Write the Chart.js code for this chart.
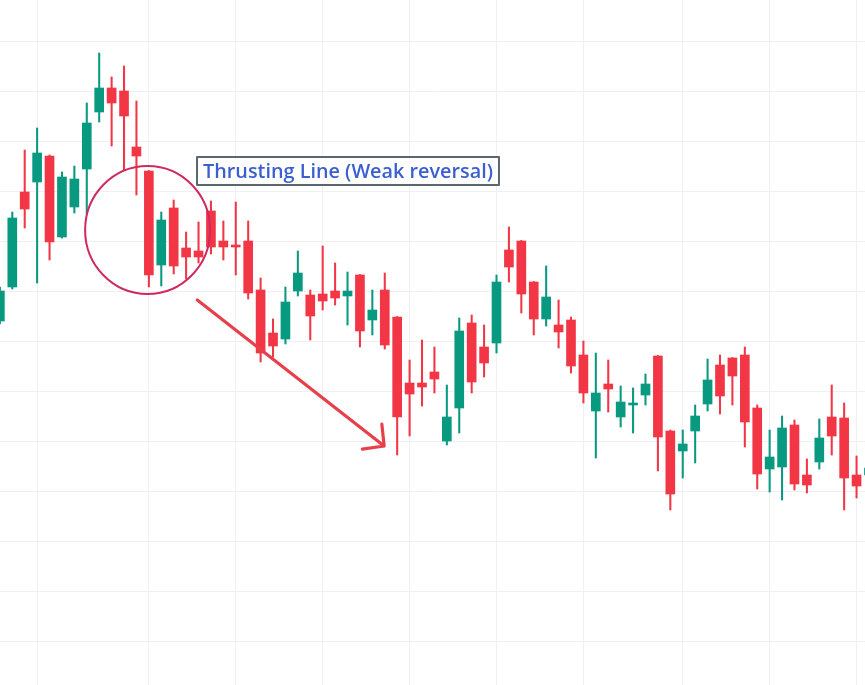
<!DOCTYPE html>
<html>
<head>
<meta charset="utf-8">
<script src="https://cdn.jsdelivr.net/npm/chart.js@4"></script>
<style>
  html, body { margin: 0; padding: 0; background: #ffffff; }
  #wrap { position: relative; width: 865px; height: 685px; }
  canvas { display: block; }
</style>
</head>
<body>
<div id="wrap"><canvas id="c" width="865" height="685"></canvas></div>
<script>
// ---- data (index = bar number) ----
const bars   = [0,1,2,3,4,5,6,7,8,9,10,11,12,13,14,15,16,17,18,19,20,21,22,23,24,25,26,27,28,29,30,31,32,33,34,35,36,37,38,39,40,41,42,43,44,45,46,47,48,49,50,51,52,53,54,55,56,57,58,59,60,61,62,63,64,65,66,67,68,69,70];
const opens  = [164.1,170.9,189.9,191.9,197.1,180.9,186.9,194.5,205.9,210.7,210.1,198.9,194.1,175.3,186.7,178.7,178.1,186.1,180.1,179.3,180.1,170.3,161.7,160.5,170.1,169.3,169.5,170.1,169.1,173.3,164.3,170.3,164.9,151.7,151.7,153.9,140.1,146.7,163.7,158.9,159.7,178.3,180.1,171.9,164.5,163.3,164.3,157.3,146.1,151.5,144.9,147.3,149.3,157.1,142.1,138.1,142.1,147.5,155.3,156.7,157.3,146.7,134.5,134.9,143.3,133.3,135.9,144.9,144.7,133.3,133.3];
const highs  = [170.9,185.9,198.3,202.7,197.3,193.9,195.1,207.7,217.7,212.9,215.1,208.1,194.2,185.9,188.3,181.9,183.9,188.1,184.1,187.9,184.1,172.7,164.5,170.9,178.1,170.3,179.1,175.7,173.9,173.4,170.3,173.7,165.0,156.3,160.3,158.9,151.3,164.7,165.3,163.3,173.3,182.9,180.2,172.0,175.1,168.3,164.9,160.1,157.7,156.3,151.1,150.7,153.5,157.2,142.3,142.3,147.3,156.5,157.3,156.8,158.9,147.3,142.3,145.1,144.3,136.5,144.5,151.3,147.7,137.1,135.9];
const lows   = [163.5,170.5,182.7,171.7,176.3,180.7,185.7,185.5,203.9,199.1,194.3,189.3,170.9,171.1,173.5,172.5,175.7,177.5,176.3,173.3,168.5,155.9,156.9,159.5,169.1,160.3,166.3,167.3,163.3,158.9,161.3,158.5,137.3,141.1,147.1,149.7,139.3,141.7,149.7,152.9,157.7,171.9,165.7,161.3,163.1,158.7,153.7,147.7,136.7,145.9,142.9,141.7,147.3,134.1,126.3,132.7,135.7,146.1,145.5,147.3,138.9,130.5,129.9,128.3,130.3,129.7,134.5,137.3,126.3,128.7,132.3];
const closes = [170.1,184.7,186.5,197.7,179.9,192.9,192.5,203.7,210.7,207.7,205.1,197.1,173.3,184.3,175.1,176.9,176.9,178.9,178.9,178.9,169.7,157.7,159.1,167.9,173.7,165.1,168.1,168.7,170.1,162.1,166.3,159.3,144.9,149.5,150.9,152.5,144.9,162.1,151.9,155.7,171.9,174.9,169.5,164.5,168.9,161.9,155.1,149.7,149.7,150.5,147.9,147.7,151.5,140.9,129.5,139.5,145.1,152.3,149.1,153.1,143.9,133.5,136.9,142.7,131.5,131.3,140.7,141.1,132.7,131.1,134.7];

// grid positions (bar numbers for vertical lines, price levels for horizontal lines)
const xGridBars   = [3,12,19,26,33,40,47,55,62,69];
const yGridLevels = [100,110,120,130,140,150,160,170,180,190,200,210,220];

// annotation anchors in data units (bar number, price)
const circleCenter = {x: 11.9, y: 182.3};
const arrowFrom    = {x: 15.9, y: 168.3};
const arrowTo      = {x: 30.95, y: 139.1};
const labelAnchor  = {x: 15.88, y: 196.9};
const labelText    = 'Thrusting Line (Weak reversal)';

const UP = '#089981', DOWN = '#F23645';
const colorOf = i => (closes[i] >= opens[i] ? UP : DOWN);

const wickData = bars.map((b, i) => ({x: b, y: [lows[i], highs[i]]}));
const bodyData = bars.map((b, i) => ({x: b, y: [opens[i], closes[i]]}));

const annotations = {
  id: 'annotations',
  afterDatasetsDraw(chart) {
    const ctx = chart.ctx;
    const xs = chart.scales.x, ys = chart.scales.y;
    const px = v => xs.getPixelForValue(v), py = v => ys.getPixelForValue(v);
    ctx.save();
    // circle
    ctx.strokeStyle = '#d1295f';
    ctx.lineWidth = 2;
    ctx.beginPath();
    ctx.ellipse(px(circleCenter.x), py(circleCenter.y), 62.5, 64, 0, 0, Math.PI * 2);
    ctx.stroke();
    // arrow
    const x1 = px(arrowFrom.x), y1 = py(arrowFrom.y), x2 = px(arrowTo.x), y2 = py(arrowTo.y);
    ctx.strokeStyle = '#e8404b';
    ctx.lineWidth = 3.2;
    ctx.lineCap = 'round';
    ctx.lineJoin = 'round';
    ctx.beginPath();
    ctx.moveTo(x1, y1);
    ctx.lineTo(x2, y2);
    const back = Math.atan2(y1 - y2, x1 - x2);
    const spread = 46 * Math.PI / 180, headLen = 22;
    ctx.moveTo(x2 + headLen * Math.cos(back + spread), y2 + headLen * Math.sin(back + spread));
    ctx.lineTo(x2, y2);
    ctx.lineTo(x2 + headLen * Math.cos(back - spread), y2 + headLen * Math.sin(back - spread));
    ctx.stroke();
    // label box
    const lx = px(labelAnchor.x), ly = py(labelAnchor.y);
    let size = 20;
    ctx.font = '600 ' + size + 'px "Open Sans"';
    const targetW = 290;
    const w0 = ctx.measureText(labelText).width;
    size = size * targetW / w0;
    ctx.font = '600 ' + size.toFixed(2) + 'px "Open Sans"';
    const tw = ctx.measureText(labelText).width;
    const bw = tw + 12, bh = 28;
    ctx.fillStyle = '#ffffff';
    ctx.fillRect(lx, ly, bw, bh);
    ctx.strokeStyle = '#5c6670';
    ctx.lineWidth = 2;
    ctx.strokeRect(lx, ly, bw, bh);
    ctx.fillStyle = '#3a5fd0';
    ctx.textBaseline = 'middle';
    ctx.textAlign = 'left';
    ctx.fillText(labelText, lx + 6, ly + bh / 2 + 1);
    ctx.restore();
  }
};

new Chart(document.getElementById('c'), {
  type: 'bar',
  data: {
    datasets: [
      {
        label: 'wick',
        data: wickData,
        backgroundColor: c => colorOf(c.dataIndex),
        barThickness: 1.4,
        borderWidth: 0,
        grouped: false,
        order: 2
      },
      {
        label: 'body',
        data: bodyData,
        backgroundColor: c => colorOf(c.dataIndex),
        barThickness: 9,
        borderWidth: 0,
        grouped: false,
        order: 1
      }
    ]
  },
  options: {
    responsive: false,
    animation: false,
    maintainAspectRatio: false,
    layout: { padding: 0 },
    plugins: { legend: { display: false }, tooltip: { enabled: false } },
    scales: {
      x: {
        type: 'linear',
        min: 0.01,
        max: 69.68,
        offset: false,
        afterBuildTicks: s => { s.ticks = xGridBars.map(v => ({value: v})); },
        ticks: { display: false },
        grid: { color: '#eef0f4', lineWidth: 1, drawTicks: false, offset: false },
        border: { display: false }
      },
      y: {
        type: 'linear',
        min: 91.3,
        max: 228.3,
        afterBuildTicks: s => { s.ticks = yGridLevels.map(v => ({value: v})); },
        ticks: { display: false },
        grid: { color: '#eef0f4', lineWidth: 1, drawTicks: false, offset: false },
        border: { display: false }
      }
    }
  },
  plugins: [annotations]
});
</script>
</body>
</html>
